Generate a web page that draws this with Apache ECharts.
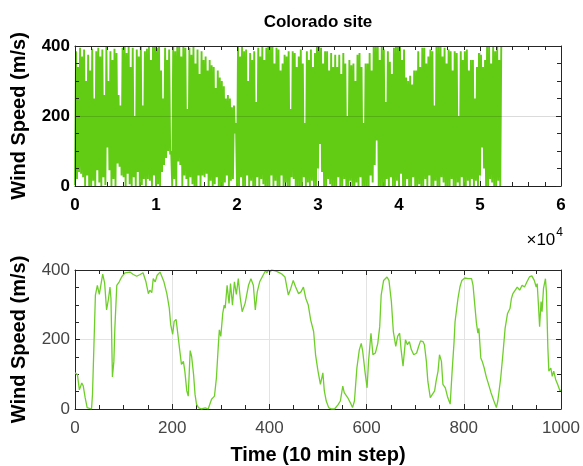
<!DOCTYPE html>
<html>
<head>
<meta charset="utf-8">
<script src="https://cdn.jsdelivr.net/npm/echarts@6/dist/echarts.min.js"></script>
<style>
  html, body { margin: 0; padding: 0; background: #fff; }
  #chart { width: 583px; height: 466px; }
</style>
</head>
<body>
<div id="chart"></div>
<script>
// Full record: per-column envelope of the 10-min wind series (one pair every 250 steps)
const FULL_STEP = 250;
const FULL_HIGH = [
  385, 340, 395, 370,  390, 300, 375, 330,  392, 250, 385, 395,  370, 390, 260, 398,
  300, 385, 360, 392,  380, 260, 230, 395,  400, 380, 398, 340,  395, 200, 390, 370,
  398, 230, 385, 392,  400, 360, 398, 400,  395, 400, 330, 250,  395, 360, 390, 100,
  400, 385, 398, 400,  370, 400, 395, 220,  395, 375, 398, 350,  390, 320, 385, 360,
  370, 330, 360, 345,  340, 280, 330, 310,  300, 285, 250, 260,  250, 225, 230, 180,
  400, 370, 400, 385,  390, 300, 380, 360,  385, 240, 395, 370,  400, 360, 395, 400,
  398, 400, 350, 395,  390, 330, 350, 375,  370, 385, 220, 385,  380, 340, 370, 390,
  350, 180, 385, 360,  390, 340, 380, 400,  400, 395, 350, 385,  385, 330, 380, 340,
  375, 340, 375, 320,  380, 350, 200, 360,  345, 350, 300, 375,  380, 340, 180, 350,
  350, 380, 330, 400,  400, 398, 360, 400,  390, 240, 385, 355,  320, 395, 400, 398,
  400, 360, 390, 310,  300, 315, 290, 330,  330, 385, 340, 395,  395, 350, 370, 390,
  385, 230, 400, 398,  400, 370, 395, 350,  390, 385, 330, 385,  380, 200, 385, 360,
  385, 390, 330, 360,  360, 250, 340, 380,  375, 340, 360, 400,  398, 350, 400, 385,
  400, 360, 398
];
const FULL_LOW = [
   2, 20, 40, 35,   25,  0, 30,  0,    0, 15,  0, 45,   10,  0, 25,  3,
 110, 45,  0, 20,    0, 64, 55, 30,   25,  0, 35,  5,    0, 25,  0, 40,
   0,  3, 20,  0,   20, 15,  0, 30,    0,  5,  0, 40,   60, 80,100, 90,
   0, 20,  0, 70,   60,  0, 30, 20,    0, 25,  5,  0,    0, 30,  0, 30,
  25, 35,  0, 15,    0,  5, 25,  0,    0,  0, 10, 30,    0, 15, 20,150,
   0,  0, 25,  0,    0, 30,  0, 15,    0,  0, 25,  0,   20,  5,  0,  0,
   0, 30,  0, 15,    0,  0, 30,  0,   10,  0,  0, 25,   20,  0,  0,  0,
   0, 25,  0, 10,    0, 15,  0,  0,   50,120, 40,  0,    0, 20,  5,  0,
   0,  0, 25,  0,    0, 20,  0,  0,   15,  0,  0, 10,    0, 25,  0,  0,
   0,  0, 30, 10,   60,130,  0,  0,    0,  0, 20,  0,   25,  0,  0, 15,
   0, 35,  0,  0,   20,  0,  0, 25,    0,  0,  5,  0,    0, 20,  0, 30,
   0,  0, 15,  0,    0, 25, 10,  0,    0,  0, 20,  0,    0, 10,  0, 25,
   0,  0, 15,  0,   20,  0, 15,  0,   30,110, 50,  0,    0, 20, 10,  0,
   0, 15,  0
];

// First 1000 steps
const ZOOM_STEP = [
  0, 5, 9, 14, 17, 21, 25, 29, 34, 36, 39, 42, 46, 50, 53, 57, 61, 65, 69, 72,
  74, 77, 80, 82, 86, 91, 96, 103, 113, 120, 127, 134, 140, 146, 151, 154, 158, 161, 165, 169,
  175, 179, 183, 189, 194, 197, 201, 204, 208, 211, 215, 219, 223, 226, 230, 233, 237, 240, 244, 247,
  250, 254, 260, 268, 274, 281, 287, 291, 295, 297, 300, 304, 307, 309, 313, 317, 320, 324, 328, 332,
  336, 340, 344, 350, 357, 362, 367, 371, 375, 380, 387, 392, 395, 398, 402, 404, 410, 415, 425, 432,
  439, 444, 449, 454, 460, 465, 470, 475, 480, 485, 491, 495, 500, 505, 510, 513, 517, 522, 527, 534,
  541, 546, 551, 554, 561, 568, 571, 575, 580, 585, 589, 592, 597, 601, 604, 609, 613, 618, 623, 627,
  630, 635, 642, 646, 651, 655, 660, 664, 668, 671, 675, 680, 684, 688, 692, 697, 703, 707, 711, 716,
  719, 723, 726, 731, 735, 740, 743, 747, 750, 754, 757, 762, 767, 772, 776, 780, 782, 785, 788, 792,
  796, 802, 809, 816, 819, 822, 826, 829, 831, 835, 838, 842, 846, 851, 856, 862, 867, 870, 876, 881,
  885, 890, 895, 898, 901, 905, 910, 915, 920, 925, 930, 935, 940, 945, 949, 951, 954, 956, 959, 961,
  964, 968, 970, 973, 975, 979, 982, 985, 989, 993, 998, 1000
];
const ZOOM_SPEED = [
  104, 99, 55, 75, 66, 32, 4, 0, 0, 42, 185, 328, 356, 330, 332, 388, 362, 285, 318, 351,
  318, 92, 137, 232, 356, 366, 380, 392, 394, 387, 382, 387, 392, 366, 332, 342, 335, 375, 366, 385,
  394, 392, 366, 332, 290, 242, 215, 252, 258, 223, 175, 128, 137, 109, 52, 37, 168, 151, 99, 42,
  14, 4, 0, 3, 0, 28, 37, 90, 185, 228, 209, 275, 299, 290, 356, 304, 361, 299, 366, 330,
  375, 320, 280, 304, 356, 375, 356, 285, 337, 366, 385, 398, 392, 400, 394, 400, 398, 396, 389, 380,
  328, 347, 370, 351, 332, 337, 351, 318, 299, 256, 223, 156, 109, 71, 104, 52, 23, 4, 0, 0,
  12, 23, 66, 47, 33, 14, 4, 23, 118, 170, 189, 166, 104, 61, 137, 218, 156, 161, 189, 237,
  328, 370, 380, 370, 309, 223, 180, 210, 218, 171, 123, 199, 185, 194, 171, 156, 161, 180, 196, 194,
  185, 137, 80, 33, 28, 52, 80, 109, 156, 137, 71, 61, 33, 14, 109, 194, 251, 256, 318, 351,
  370, 377, 375, 375, 356, 309, 247, 218, 232, 147, 137, 118, 94, 71, 47, 23, 4, 23, 90, 166,
  232, 275, 289, 318, 332, 328, 351, 342, 356, 351, 366, 380, 383, 370, 351, 361, 289, 237, 309, 280,
  347, 375, 337, 175, 109, 118, 94, 109, 85, 71, 52, 55
];

const SPEED_TICKS = { min: 0, max: 400, interval: 200 };

// Dense record drawn as a vertical zig-zag between each column's low and high
const fullSeries = [];
FULL_HIGH.forEach((hi, i) => {
  fullSeries.push([i * FULL_STEP, FULL_LOW[i]]);
  fullSeries.push([i * FULL_STEP + FULL_STEP / 2, hi]);
});
const zoomSeries = ZOOM_STEP.map((t, i) => [t, ZOOM_SPEED[i]]);

const FONT = 'Liberation Sans, Arial, sans-serif';
const AXIS_COLOR = '#262626';
const GREEN = '#62cc14';

function boxAxis(extra) {
  // plain edge axis: line + inward ticks, no labels
  return Object.assign({
    z: 5,
    axisLine: { show: true, onZero: false, lineStyle: { color: AXIS_COLOR, width: 1 } },
    axisTick: { show: true, inside: true, length: 5, lineStyle: { color: AXIS_COLOR } },
    minorTick: { show: true, length: 4, lineStyle: { color: AXIS_COLOR } },
    axisLabel: { show: false },
    splitLine: { show: false }
  }, extra);
}

const chart = echarts.init(document.getElementById('chart'), null, { renderer: 'canvas' });

chart.setOption({
  animation: false,
  backgroundColor: '#ffffff',
  grid: [
    { left: 75, top: 46, width: 486, height: 140 },
    { left: 75, top: 270, width: 486, height: 140 }
  ],
  xAxis: [
    boxAxis({
      type: 'value', gridIndex: 0, position: 'bottom', min: 0, max: 60000, interval: 10000, z: 1,
      minorTick: { show: true, splitNumber: 5, length: 4, lineStyle: { color: AXIS_COLOR } },
      axisLabel: {
        show: true, margin: 11, color: '#000', fontFamily: FONT, fontSize: 17, fontWeight: 'bold',
        formatter: v => String(v / 10000)
      },
      splitLine: { show: true, lineStyle: { color: '#e3e3e3', width: 1 } }
    }),
    boxAxis({
      type: 'value', gridIndex: 0, position: 'top', min: 0, max: 60000, interval: 10000,
      minorTick: { show: true, splitNumber: 5, length: 4, lineStyle: { color: AXIS_COLOR } }
    }),
    boxAxis({
      type: 'value', gridIndex: 1, position: 'bottom', min: 0, max: 1000, interval: 200, z: 1,
      minorTick: { show: true, splitNumber: 4, length: 4, lineStyle: { color: AXIS_COLOR } },
      axisLabel: { show: true, margin: 11, color: '#454545', fontFamily: FONT, fontSize: 17, formatter: v => String(v) },
      splitLine: { show: true, lineStyle: { color: '#e3e3e3', width: 1 } },
      name: 'Time (10 min step)', nameLocation: 'middle', nameGap: 36,
      nameTextStyle: { color: '#000', fontFamily: FONT, fontSize: 20, fontWeight: 'bold' }
    }),
    boxAxis({
      type: 'value', gridIndex: 1, position: 'top', min: 0, max: 1000, interval: 200,
      minorTick: { show: true, splitNumber: 4, length: 4, lineStyle: { color: AXIS_COLOR } }
    })
  ],
  yAxis: [
    boxAxis(Object.assign({
      type: 'value', gridIndex: 0, position: 'left',
      minorTick: { show: true, splitNumber: 4, length: 4, lineStyle: { color: AXIS_COLOR } },
      axisLabel: { show: true, margin: 5, color: '#000', fontFamily: FONT, fontSize: 17, fontWeight: 'bold' },
      splitLine: { show: true, lineStyle: { color: 'rgba(0,0,0,0.14)', width: 1 } },
      name: 'Wind Speed (m/s)', nameLocation: 'middle', nameGap: 46,
      nameTextStyle: { color: '#000', fontFamily: FONT, fontSize: 20, fontWeight: 'bold' }
    }, SPEED_TICKS)),
    boxAxis(Object.assign({
      type: 'value', gridIndex: 0, position: 'right',
      minorTick: { show: true, splitNumber: 4, length: 4, lineStyle: { color: AXIS_COLOR } }
    }, SPEED_TICKS)),
    boxAxis(Object.assign({
      type: 'value', gridIndex: 1, position: 'left', z: 1,
      minorTick: { show: true, splitNumber: 4, length: 4, lineStyle: { color: AXIS_COLOR } },
      axisLabel: { show: true, margin: 5, color: '#454545', fontFamily: FONT, fontSize: 17 },
      splitLine: { show: true, lineStyle: { color: '#e3e3e3', width: 1 } },
      name: 'Wind Speed (m/s)', nameLocation: 'middle', nameGap: 46,
      nameTextStyle: { color: '#000', fontFamily: FONT, fontSize: 20, fontWeight: 'bold' }
    }, SPEED_TICKS)),
    boxAxis(Object.assign({
      type: 'value', gridIndex: 1, position: 'right',
      minorTick: { show: true, splitNumber: 4, length: 4, lineStyle: { color: AXIS_COLOR } }
    }, SPEED_TICKS))
  ],
  graphic: [
    {
      type: 'text', x: 318, y: 22,
      style: {
        text: 'Colorado site', fill: '#000', font: 'bold 17px ' + FONT,
        align: 'center', verticalAlign: 'middle'
      }
    },
    {
      type: 'text', x: 563, y: 238,
      style: {
        text: '{a|×10}{b|4}', align: 'right', verticalAlign: 'middle',
        rich: {
          a: { fontFamily: FONT, fontSize: 17, color: '#000', verticalAlign: 'bottom', lineHeight: 22 },
          b: { fontFamily: FONT, fontSize: 12, color: '#000', verticalAlign: 'top', padding: [0, 0, 10, 1], lineHeight: 22 }
        }
      }
    }
  ],
  series: [
    {
      type: 'line', xAxisIndex: 0, yAxisIndex: 0, data: fullSeries,
      showSymbol: false, symbol: 'none', z: 2,
      lineStyle: { color: GREEN, width: 1.9 }
    },
    {
      type: 'line', xAxisIndex: 2, yAxisIndex: 2, data: zoomSeries,
      showSymbol: false, symbol: 'none',
      lineStyle: { color: '#6fcf2a', width: 1.3 }
    }
  ]
});
</script>
</body>
</html>
